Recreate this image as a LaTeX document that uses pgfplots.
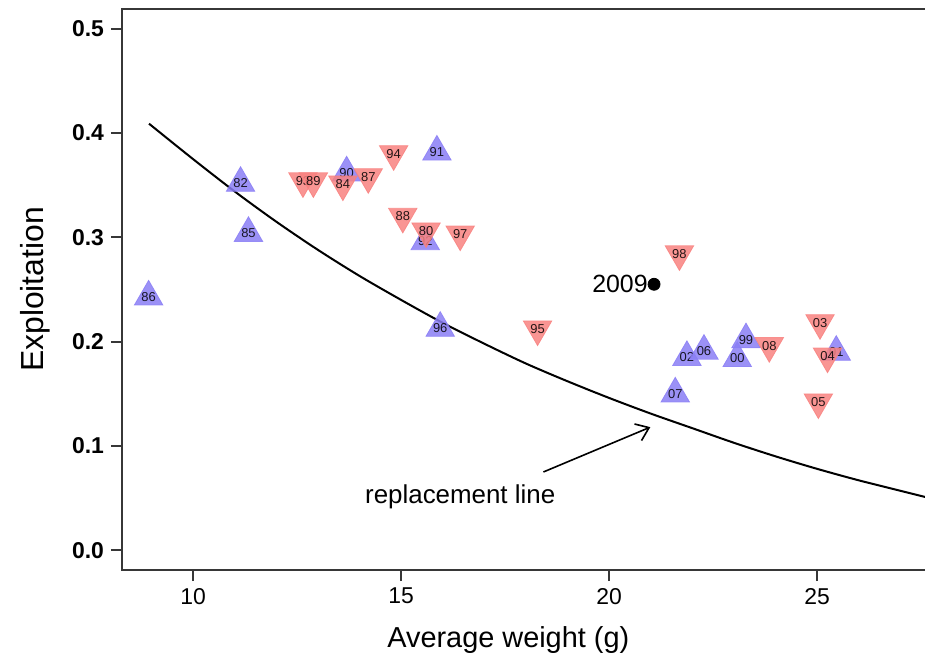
\documentclass[border=0pt]{standalone}
\usepackage{fontspec}
\setmainfont{Liberation Sans}
\usepackage{pgfplots}
\pgfplotsset{compat=1.18}
\usetikzlibrary{arrows.meta}
\definecolor{bluetri}{RGB}{138,126,245}
\definecolor{redtri}{RGB}{248,130,128}
\definecolor{axisgray}{RGB}{55,55,55}
\begin{document}
\begin{tikzpicture}
\begin{axis}[
  at={(0,0)}, anchor=south west,
  scale only axis, width=405.8bp, height=280.5bp,
  xmin=8.29, xmax=27.8, ymin=-0.019, ymax=0.519,
  xtick={10,15,20,25}, xticklabels={10,15,20,25},
  ytick={0,0.1,0.2,0.3,0.4,0.5}, yticklabels={0.0,0.1,0.2,0.3,0.4,0.5},
  tick align=outside, tick pos=left,
  major tick length=5.5bp,
  tick style={line width=0.9bp, axisgray},
  axis line style={line width=1bp, axisgray},
  xticklabel style={font=\fontsize{11.5}{13}\selectfont},
  yticklabel style={font=\bfseries\fontsize{11.5}{13}\selectfont},
  xlabel={Average weight (g)}, ylabel={Exploitation},
  xlabel style={font=\fontsize{14.5}{17}\selectfont, at={(axis description cs:0.476,0)}, anchor=center, yshift=-35bp},
  ylabel style={font=\fontsize{16}{18}\selectfont, at={(axis description cs:-0.107,0.5)}, anchor=center},
]
\addplot[smooth, line width=1bp, black] coordinates {
 (8.94,0.409) (10,0.375) (11,0.344) (12,0.315) (13,0.288) (14,0.263)
 (15,0.240) (16,0.218) (17,0.198) (18,0.179) (19,0.162) (20,0.146)
 (21,0.131) (22,0.117) (23,0.103) (24,0.090) (25,0.078) (26,0.067)
 (27,0.057) (27.8,0.049)
};
\addplot[only marks, mark=triangle*, mark size=8.2bp,
  mark options={fill=bluetri, draw=bluetri, fill opacity=0.85, draw opacity=0.85},
  nodes near coords, point meta=explicit symbolic,
  every node near coord/.append style={anchor=center, inner sep=0pt, text=black, font=\fontsize{6.5}{7}\selectfont}]
  table[meta=lab] {
x y lab
8.93 0.243 86
11.14 0.352 82
11.33 0.304 85
13.69 0.362 90
15.86 0.382 91
15.58 0.296 92
15.94 0.213 96
21.59 0.150 07
21.87 0.185 02
22.28 0.191 06
23.08 0.184 00
23.29 0.202 99
25.46 0.190 01
};
\addplot[only marks, mark=triangle*, mark size=8.2bp,
  mark options={rotate=180, fill=redtri, draw=redtri, fill opacity=0.85, draw opacity=0.85},
  nodes near coords, point meta=explicit symbolic,
  every node near coord/.append style={anchor=center, inner sep=0pt, text=black, font=\fontsize{6.5}{7}\selectfont}]
  table[meta=lab] {
x y lab
12.64 0.354 93
12.89 0.354 89
13.60 0.351 84
14.21 0.358 87
14.82 0.380 94
15.04 0.320 88
15.60 0.306 80
16.42 0.303 97
18.28 0.212 95
21.69 0.284 98
23.85 0.196 08
25.07 0.218 03
25.25 0.186 04
25.03 0.142 05
};
\addplot[only marks, mark=*, mark size=3bp, black,
  nodes near coords, point meta=explicit symbolic,
  every node near coord/.append style={anchor=east, xshift=-3bp, inner sep=0pt, text=black, font=\fontsize{12.5}{14}\selectfont}]
  table[meta=lab] {
x y lab
21.08 0.255 2009
};
\node[font=\fontsize{13}{15}\selectfont] at (axis cs:16.42,0.051) {replacement line};
\draw[-{Straight Barb[length=6bp,width=9bp]}, line width=0.8bp] (axis cs:18.42,0.075) -- (axis cs:20.99,0.118);
\end{axis}
\pgfresetboundingbox
\path[use as bounding box] (-61bp,-47bp) rectangle (401.5bp,285bp);
\end{tikzpicture}
\end{document}
